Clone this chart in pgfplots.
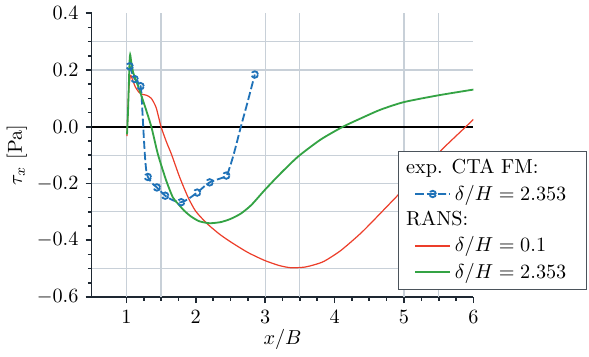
\documentclass[border=0pt]{standalone}
\usepackage{pgfplots}
\pgfplotsset{compat=1.18}

\definecolor{expblue}{RGB}{31,114,184}
\definecolor{ransred}{RGB}{236,62,42}
\definecolor{ransgreen}{RGB}{52,163,68}
\definecolor{gridc}{RGB}{200,208,216}
\definecolor{axisc}{RGB}{30,40,50}

% wall shear stress, CTA hot-film measurement
\pgfplotstableread{
x y
1.048 0.213
1.120 0.168
1.205 0.143
1.230 0.060
1.250 -0.030
1.270 -0.110
1.290 -0.160
1.310 -0.177
1.370 -0.199
1.440 -0.214
1.500 -0.229
1.560 -0.243
1.670 -0.259
1.790 -0.266
1.900 -0.253
2.020 -0.232
2.110 -0.213
2.200 -0.196
2.320 -0.185
2.440 -0.172
2.500 -0.135
2.560 -0.085
2.650 0.000
2.750 0.090
2.850 0.184
}\expdata

% RANS, delta/H = 0.1
\pgfplotstableread{
x y
1.010 -0.033
1.020 0.040
1.035 0.130
1.060 0.181
1.090 0.165
1.130 0.140
1.180 0.122
1.215 0.115
1.290 0.111
1.360 0.100
1.430 0.067
1.500 0.000
1.580 -0.055
1.650 -0.097
1.770 -0.179
1.890 -0.249
2.000 -0.298
2.170 -0.343
2.350 -0.380
2.510 -0.407
2.750 -0.443
2.990 -0.471
3.200 -0.489
3.370 -0.497
3.560 -0.495
3.700 -0.487
3.850 -0.474
4.090 -0.436
4.400 -0.370
4.810 -0.267
5.200 -0.168
5.530 -0.084
5.890 0.000
6.000 0.026
}\ransA

% RANS, delta/H = 2.353
\pgfplotstableread{
x y
1.010 -0.027
1.025 0.060
1.045 0.220
1.055 0.254
1.070 0.230
1.100 0.190
1.170 0.143
1.260 0.078
1.360 0.000
1.455 -0.097
1.575 -0.190
1.670 -0.249
1.740 -0.270
1.830 -0.295
1.930 -0.316
2.050 -0.333
2.200 -0.340
2.360 -0.336
2.500 -0.325
2.650 -0.306
2.800 -0.276
2.990 -0.224
3.200 -0.170
3.470 -0.106
3.800 -0.045
4.120 0.000
4.400 0.032
4.660 0.060
5.000 0.087
5.500 0.111
6.000 0.131
}\ransB

\begin{document}
\begin{tikzpicture}[trim right=244.9bp]
\begin{axis}[
  scale only axis,
  width=188bp, height=139.7bp,
  xmin=0.5, xmax=6, ymin=-0.6, ymax=0.4,
  axis x line=bottom, axis y line=left,
  axis line style={color=axisc, line width=0.8pt, -},
  tick align=outside,
  tick style={color=axisc, line width=0.8pt},
  major tick length=3pt, minor tick length=1.8pt,
  xtick={1,2,3,4,5,6},
  ytick={-0.6,-0.4,-0.2,0,0.2,0.4},
  minor x tick num=3, minor y tick num=3,
  yticklabel style={/pgf/number format/fixed, /pgf/number format/fixed zerofill, /pgf/number format/precision=1},
  extra x ticks={1,1.5,3,3.5,5,5.5},
  extra x tick labels={,,,,,},
  extra y ticks={0.3,0.2,-0.1,-0.2,-0.3,-0.5},
  extra y tick labels={,,,,,},
  extra tick style={grid=major, major tick length=0pt, major grid style={color=gridc, line width=0.55pt}},
  xlabel={$x/B$}, ylabel={$\tau_x$ [Pa]},
  xlabel style={yshift=7pt}, ylabel style={yshift=-5pt},
  legend style={at={(0.8016,0.516)}, anchor=north west, draw=axisc!80, fill=white,
    line width=0.6pt, cells={anchor=west}, inner xsep=8bp},
  legend cell align=left,
  legend image post style={mark indices={2}},
]
\addplot[black, line width=1pt, forget plot] coordinates {(0.5,0) (6,0)};

\addlegendimage{empty legend}
\addlegendentry{\hspace{-24bp}exp. CTA FM:}
\addplot[expblue, line width=0.9pt, dash pattern=on 4pt off 1.5pt, smooth, tension=0.5,
  mark=o, mark size=1.6pt, mark indices={1,2,3,8,10,12,14,16,18,20,25}]
  table[x=x, y=y] {\expdata};
\addlegendentry{$\delta/H = 2.353$}

\addlegendimage{empty legend}
\addlegendentry{\hspace{-24bp}RANS:}
\addplot[ransred, line width=0.6pt, smooth, tension=0.4] table[x=x, y=y] {\ransA};
\addlegendentry{$\delta/H = 0.1$}
\addplot[ransgreen, line width=0.9pt, smooth, tension=0.4] table[x=x, y=y] {\ransB};
\addlegendentry{$\delta/H = 2.353$}
\end{axis}
\end{tikzpicture}
\end{document}
